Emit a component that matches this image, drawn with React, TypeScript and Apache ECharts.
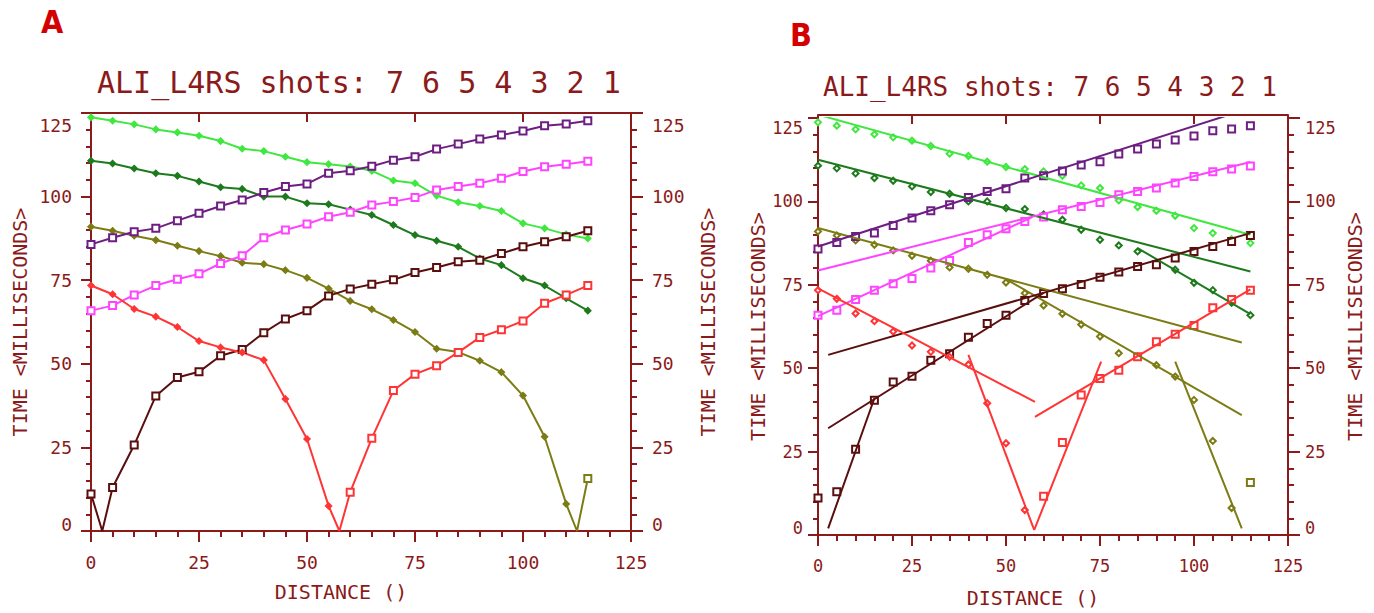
import React, { useEffect, useRef } from "react";
import * as echarts from "echarts";

// ---------- data ----------
const DIST = [0, 5, 10, 15, 20, 25, 30, 35, 40, 45, 50, 55, 60, 65, 70, 75, 80, 85, 90, 95, 100, 105, 110, 115];

const LIGHT_GREEN = [123.7, 122.7, 121.6, 120.1, 119.2, 118.2, 116.6, 114.3, 113.6, 111.9, 110.3, 109.7, 109.0, 107.7, 104.8, 104.0, 100.3, 98.3, 97.2, 95.7, 92.0, 90.5, 88.7, 87.5];
const DARK_GREEN = [110.7, 109.9, 108.4, 107.0, 106.2, 104.5, 102.8, 102.3, 100.0, 100.0, 98.0, 97.7, 96.1, 94.5, 91.5, 88.5, 86.8, 85.0, 81.5, 79.5, 75.6, 73.4, 69.6, 65.9];
const OLIVE = [91.0, 89.8, 88.3, 87.0, 85.3, 83.7, 82.2, 80.2, 79.8, 78.0, 75.7, 72.5, 68.8, 66.3, 63.1, 59.5, 54.5, 53.5, 50.9, 47.5, 40.5, 28.2, 8.1, 15.7];
const RED = [73.4, 70.8, 66.4, 64.1, 61.0, 56.8, 54.9, 53.4, 51.1, 39.5, 27.5, 7.5, 11.6, 27.7, 42.0, 46.9, 49.4, 53.4, 57.9, 60.2, 62.8, 68.1, 70.6, 73.4];
const BROWN = [11.1, 13.0, 25.7, 40.4, 45.9, 47.6, 52.4, 54.3, 59.3, 63.4, 65.9, 70.3, 72.4, 73.8, 75.1, 77.3, 78.8, 80.5, 81.0, 83.0, 85.0, 86.5, 88.0, 89.8];
const MAGENTA = [65.9, 67.4, 70.6, 73.4, 75.3, 76.9, 80.0, 82.3, 87.7, 90.0, 91.8, 94.0, 95.3, 97.5, 98.5, 99.7, 102.0, 103.0, 104.0, 105.5, 107.5, 108.9, 109.7, 110.6];
const PURPLE = [85.7, 87.7, 89.5, 90.5, 92.8, 95.0, 97.2, 99.0, 101.2, 103.0, 103.8, 107.0, 107.7, 109.1, 110.9, 111.9, 114.2, 115.7, 117.2, 118.4, 119.6, 121.2, 121.7, 122.7];

// shot source positions (time = 0), null when outside the spread
const SOURCE_X = { lightGreen: null, darkGreen: null, olive: 112.5, red: 57.5, brown: 2.6, magenta: null, purple: null };
// number of leading picks drawn with diamonds (rest drawn with squares)
const DIAMOND_COUNT = { lightGreen: 24, darkGreen: 24, olive: 23, red: 12, brown: 0, magenta: 0, purple: 0 };

// fitted segments (panel B)
const FIT_LIGHT_GREEN = [[[0, 126], [115, 90]]];
const FIT_PURPLE = [[[0, 86.5], [115, 128]]];
const FIT_MAGENTA = [[[0, 79.3], [115, 111.8]], [[0, 65.6], [57, 95.3]]];
const FIT_DARK_GREEN = [[[0, 112.5], [115, 79]], [[85, 86], [115, 66.2]]];
const FIT_OLIVE = [[[0, 92], [112.7, 57.7]], [[50, 76.7], [112.7, 35.9]], [[95, 52], [112.7, 2]]];
const FIT_BROWN = [[[2.7, 54], [115, 90.5]], [[2.7, 32], [60, 72.6]], [[2.7, 2], [15, 41]]];
const FIT_RED = [[[0, 73.9], [57.7, 39.9]], [[40, 54], [57.5, 1.5]], [[57.7, 35.4], [115, 73.6]], [[57.5, 1.5], [75.3, 52]]];

const TITLE = "ALI_L4RS shots: 7 6 5 4 3 2 1";
const X_NAME = "DISTANCE ()";
const Y_NAME = "TIME <MILLISECONDS>";

// ---------- styles ----------
const AXIS = "#8b1a1a";
const MONO = '"DejaVu Sans Mono", monospace';
const COLORS = {
  lightGreen: "#3fe83f",
  darkGreen: "#1d7a1d",
  olive: "#7c7c14",
  red: "#ff3535",
  brown: "#5a0e0e",
  magenta: "#ff44ff",
  purple: "#6e1e82",
};

const SHOTS = [
  { key: "lightGreen", values: LIGHT_GREEN, fits: FIT_LIGHT_GREEN },
  { key: "darkGreen", values: DARK_GREEN, fits: FIT_DARK_GREEN },
  { key: "olive", values: OLIVE, fits: FIT_OLIVE },
  { key: "purple", values: PURPLE, fits: FIT_PURPLE },
  { key: "magenta", values: MAGENTA, fits: FIT_MAGENTA },
  { key: "brown", values: BROWN, fits: FIT_BROWN },
  { key: "red", values: RED, fits: FIT_RED },
];

function picks(key: string, values: number[], empty: boolean) {
  const nDia = (DIAMOND_COUNT as any)[key];
  return values.map((v, i) => ({
    value: [DIST[i], v],
    symbol: i < nDia ? (empty ? "emptyDiamond" : "diamond") : "emptyRect",
    symbolSize: i < nDia ? 6 : 7,
  }));
}

function lineData(key: string, values: number[]) {
  const items: any[] = picks(key, values, false);
  const src = (SOURCE_X as any)[key];
  if (src != null) {
    const idx = DIST.findIndex((d) => d > src);
    items.splice(idx, 0, { value: [src, 0], symbol: "none" });
  }
  return items;
}

function makeAxes(gridIndex: number, o: any) {
  const line = { show: true, onZero: false, lineStyle: { color: AXIS, width: 2 } };
  const tick = { show: true, length: 10, lineStyle: { color: AXIS, width: 2 } };
  const minor = { show: true, splitNumber: 5, length: 5, lineStyle: { color: AXIS, width: 2 } };
  const yFormatter = (v: number) => (v === 125 ? "{hi|125}" : v === 0 ? "{lo|0}" : String(v));
  const rich = {
    hi: { padding: [o.hiShift * 2, 0, 0, 0], fontFamily: MONO, fontSize: o.labelSize, color: AXIS },
    lo: { padding: [0, 0, 14, 0], fontFamily: MONO, fontSize: o.labelSize, color: AXIS },
  };
  const base = { type: "value", gridIndex, min: 0, max: 125, interval: 25, splitLine: { show: false } };
  const xAxes = [
    {
      ...base,
      position: "bottom",
      axisLine: line,
      axisTick: { ...tick, length: 11 },
      minorTick: { ...minor, length: 6 },
      axisLabel: { color: AXIS, fontFamily: MONO, fontSize: o.labelSize, margin: 22 },
      name: X_NAME,
      nameLocation: "middle",
      nameGap: o.xNameGap,
      nameTextStyle: { color: AXIS, fontFamily: MONO, fontSize: 20, padding: [0, 40, 0, 0] },
    },
    {
      ...base,
      position: "top",
      offset: o.topOffset,
      axisLine: line,
      axisTick: { ...tick, inside: true, length: 9 },
      axisLabel: { show: false },
    },
  ];
  const yBase = {
    ...base,
    axisLine: line,
    axisTick: tick,
    minorTick: minor,
    name: Y_NAME,
    nameLocation: "middle",
    nameRotate: 90,
    nameTextStyle: { color: AXIS, fontFamily: MONO, fontSize: 20 },
  };
  const yAxes = [
    {
      ...yBase,
      position: "left",
      nameGap: o.yNameGapL,
      axisLabel: { color: AXIS, fontFamily: MONO, fontSize: o.labelSize, margin: o.labelMarginL, formatter: yFormatter, rich },
    },
    {
      ...yBase,
      position: "right",
      nameGap: o.yNameGapR,
      axisTick: { ...tick, length: 12 },
      minorTick: { ...minor, length: 6 },
      axisLabel: { color: AXIS, fontFamily: MONO, fontSize: o.labelSize, margin: o.labelMarginR, formatter: yFormatter, rich },
    },
  ];
  return { xAxes, yAxes };
}

export default function App() {
  const ref = useRef<HTMLDivElement>(null);

  useEffect(() => {
    if (!ref.current) return;
    const chart = echarts.init(ref.current, null, { renderer: "svg" });

    const a = makeAxes(0, { labelSize: 18, hiShift: 12, xNameGap: 51, yNameGapL: 61, yNameGapR: 67, labelMarginL: 19, labelMarginR: 21, topOffset: 0 });
    const b = makeAxes(1, { labelSize: 17, hiShift: 10, xNameGap: 53, yNameGapL: 50, yNameGapR: 57, labelMarginL: 15, labelMarginR: 17, topOffset: 3 });

    const series: any[] = [];
    SHOTS.forEach((s) => {
      const c = (COLORS as any)[s.key];
      series.push({
        type: "line",
        xAxisIndex: 0,
        yAxisIndex: 0,
        data: lineData(s.key, s.values),
        showSymbol: true,
        lineStyle: { color: c, width: 2 },
        itemStyle: { color: c, borderColor: c, borderWidth: 1.5 },
        emphasis: { disabled: true },
      });
    });
    SHOTS.forEach((s) => {
      const c = (COLORS as any)[s.key];
      s.fits.forEach((seg) => {
        series.push({
          type: "line",
          xAxisIndex: 2,
          yAxisIndex: 2,
          data: seg,
          symbol: "none",
          showSymbol: false,
          clip: true,
          lineStyle: { color: c, width: 2 },
          emphasis: { disabled: true },
        });
      });
    });
    SHOTS.forEach((s) => {
      const c = (COLORS as any)[s.key];
      series.push({
        type: "scatter",
        xAxisIndex: 2,
        yAxisIndex: 2,
        data: picks(s.key, s.values, true),
        itemStyle: { color: c, borderColor: c, borderWidth: 1.3, opacity: 1 },
        emphasis: { disabled: true },
      });
    });

    const letterFont = 'bold 32px "Liberation Sans Narrow", "DejaVu Sans Condensed", sans-serif';
    chart.setOption({
      animation: false,
      backgroundColor: "#ffffff",
      grid: [
        { left: 91, top: 113, width: 540, height: 418 },
        { left: 818, top: 118, width: 470, height: 421 },
      ],
      xAxis: [...a.xAxes, ...b.xAxes],
      yAxis: [...a.yAxes, ...b.yAxes],
      series,
      graphic: [
        { type: "text", x: 41, y: 22, style: { text: "A", fill: "#d40000", font: letterFont, align: "left", verticalAlign: "middle", textAlign: "left", textVerticalAlign: "middle" } },
        { type: "text", x: 790, y: 35, style: { text: "B", fill: "#d40000", font: letterFont, align: "left", verticalAlign: "middle", textAlign: "left", textVerticalAlign: "middle" } },
        { type: "text", x: 97, y: 82, style: { text: TITLE, fill: AXIS, font: '30px "DejaVu Sans Mono", monospace', align: "left", verticalAlign: "middle", textAlign: "left", textVerticalAlign: "middle" } },
        { type: "text", x: 823, y: 87, style: { text: TITLE, fill: AXIS, font: '26px "DejaVu Sans Mono", monospace', align: "left", verticalAlign: "middle", textAlign: "left", textVerticalAlign: "middle" } },
      ],
    });

    return () => chart.dispose();
  }, []);

  return <div ref={ref} style={{ position: "absolute", left: 0, top: 0, width: 1374, height: 613, background: "#fff" }} />;
}
